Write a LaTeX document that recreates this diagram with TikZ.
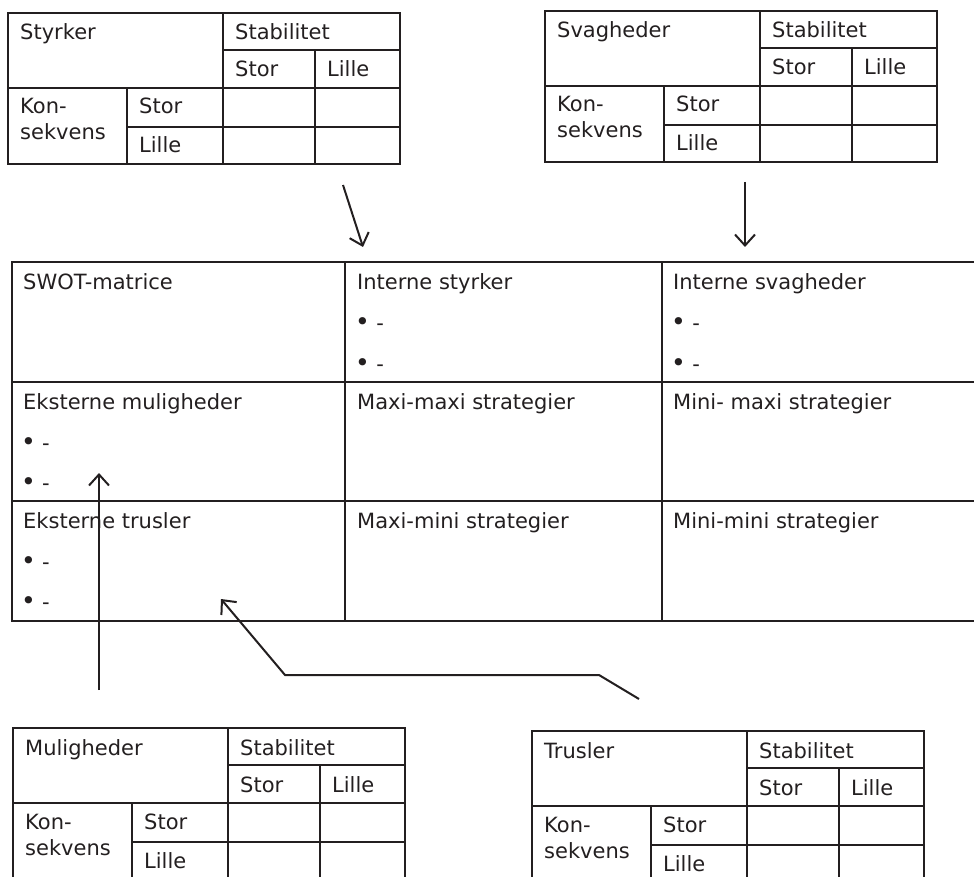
\documentclass[tikz,border=0pt]{standalone}
\usepackage{fontspec}
\setmainfont{DejaVu Sans}
\usetikzlibrary{arrows.meta}
\definecolor{ink}{HTML}{231F20}

\tikzset{
  txt/.style={anchor=base west, inner sep=0pt, text=ink,
    font=\fontsize{21}{24}\selectfont},
  rule/.style={draw=ink, line width=2pt},
  frame/.style={draw=ink, line width=2.6pt},
  flow/.style={draw=ink, line width=2pt,
    -{Straight Barb[length=11pt,width=20pt]}},
}

% list item placeholder: a filled dot and a dash
\newcommand\bulletdash{\raisebox{-0.5pt}{\fontsize{25}{24}\selectfont•}\hspace{0.3em}-}

% Consequence/stability table: #1 name prefix, (#2,#3) top-left corner, #4 title
\newcommand\risktable[4]{%
  \begin{scope}[shift={(#2,#3)}]
    \draw[rule] (0,0) rectangle (392,151);
    \draw[rule] (215,0) -- (215,151);
    \draw[rule] (119,75) -- (119,151);
    \draw[rule] (307,37) -- (307,151);
    \draw[rule] (215,37) -- (392,37);
    \draw[rule] (0,75) -- (392,75);
    \draw[rule] (119,114) -- (392,114);
    \node[txt] (#1-title) at (12,27) {#4};
    \node[txt] (#1-stab)  at (227,27) {Stabilitet};
    \node[txt] (#1-sstor) at (227,64) {Stor};
    \node[txt] (#1-slille) at (319,64) {Lille};
    \node[txt] (#1-kon)   at (12,101) {Kon-};
    \node[txt] (#1-sek)   at (12,127) {sekvens};
    \node[txt] (#1-kstor) at (131,101) {Stor};
    \node[txt] (#1-klille) at (131,140) {Lille};
  \end{scope}}

\begin{document}
\begin{tikzpicture}[x=1pt, y=-1pt]
  \useasboundingbox (0,0) rectangle (974,877);
  \clip (0,0) rectangle (974,877);

  % four input tables
  \risktable{sty}{8}{13}{Styrker}
  \risktable{sva}{545}{11}{Svagheder}
  \risktable{mul}{13}{728}{Muligheder}
  \risktable{tru}{532}{731}{Trusler}

  % SWOT matrix
  \draw[frame] (12,262) rectangle (982,621);
  \draw[rule] (345,262) -- (345,621);
  \draw[rule] (662,262) -- (662,621);
  \draw[rule] (12,382) -- (982,382);
  \draw[rule] (12,501) -- (982,501);

  \node[txt] (swot) at (23,289) {SWOT-matrice};
  \node[txt] (is)   at (357,289) {Interne styrker};
  \node[txt] (isv)  at (673,289) {Interne svagheder};
  \node[txt] (is1)  at (355,330) {\bulletdash};
  \node[txt] (is2)  at (355,371) {\bulletdash};
  \node[txt] (isv1) at (671,330) {\bulletdash};
  \node[txt] (isv2) at (671,371) {\bulletdash};

  \node[txt] (em)  at (23,409) {Eksterne muligheder};
  \node[txt] (em1) at (21,450) {\bulletdash};
  \node[txt] (em2) at (21,490) {\bulletdash};
  \node[txt] (mm)  at (357,409) {Maxi-maxi strategier};
  \node[txt] (nm)  at (673,409) {Mini- maxi strategier};

  \node[txt] (et)  at (23,528) {Eksterne trusler};
  \node[txt] (et1) at (21,569) {\bulletdash};
  \node[txt] (et2) at (21,609) {\bulletdash};
  \node[txt] (mx)  at (357,528) {Maxi-mini strategier};
  \node[txt] (nn)  at (673,528) {Mini-mini strategier};

  % connectors from the tables into the matrix
  \coordinate (styOut) at (343,185);
  \coordinate (styIn)  at (363,247);
  \coordinate (svaOut) at (745,182);
  \coordinate (svaIn)  at (745,247);
  \coordinate (mulOut) at (99,690);
  \coordinate (mulIn)  at (99,473);
  \coordinate (truOut) at (639,699);
  \coordinate (truB1)  at (599,675);
  \coordinate (truB2)  at (285,675);
  \coordinate (truIn)  at (221,599);

  \draw[flow] (styOut) -- (styIn);
  \draw[flow] (svaOut) -- (svaIn);
  \draw[flow] (mulOut) -- (mulIn);
  \draw[flow] (truOut) -- (truB1) -- (truB2) -- (truIn);
\end{tikzpicture}
\end{document}
